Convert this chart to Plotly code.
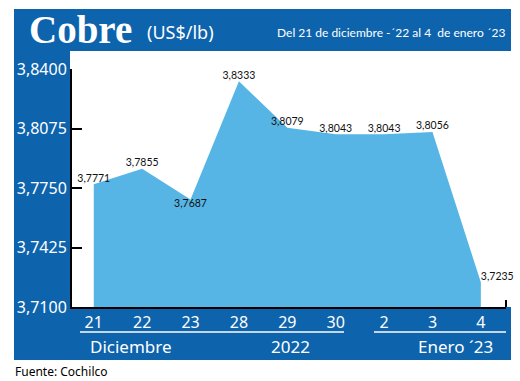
import plotly.graph_objects as go

days = ["21", "22", "23", "28", "29", "30", "2", "3", "4"]
values = [3.7771, 3.7855, 3.7687, 3.8333, 3.8079, 3.8043, 3.8043, 3.8056, 3.7235]
value_labels = [f"{v:.4f}".replace(".", ",") for v in values]
y_ticks = [3.7100, 3.7425, 3.7750, 3.8075, 3.8400]
y_tick_labels = [f"{v:.4f}".replace(".", ",") for v in y_ticks]
label_pos = ["top center", "top center", "bottom center", "top center", "top center",
             "top center", "top center", "top center", "top right"]

BLUE = "#0e63ad"
FILL = "#56b5e5"
W, H = 520, 381
L, R, T, B = 72, 14, 69, 74
PW, PH = W - L - R, H - T - B

def px(x):
    return (x - L) / PW

def py(y):
    return (H - B - y) / PH

xs = list(range(len(days)))

fig = go.Figure()
fig.add_trace(go.Scatter(
    x=xs, y=values, mode="lines", fill="tozeroy",
    line=dict(color=FILL, width=0), fillcolor=FILL, hoverinfo="skip",
))
fig.add_trace(go.Scatter(
    x=xs, y=values, mode="text", text=value_labels, textposition=label_pos,
    textfont=dict(family="Lato, Roboto", size=10.5, color="#111"),
    hoverinfo="skip", cliponaxis=False,
))

shapes = [
    dict(type="rect", xref="paper", yref="paper", x0=px(14), x1=px(511), y0=py(9), y1=py(360),
         fillcolor=BLUE, line=dict(width=0), layer="below"),
    dict(type="rect", xref="paper", yref="paper", x0=px(70), x1=px(520), y0=py(51), y1=py(307),
         fillcolor="white", line=dict(width=0), layer="below"),
    dict(type="line", xref="paper", yref="paper", x0=px(80), x1=px(344), y0=py(332), y1=py(332),
         line=dict(color="white", width=1.5)),
    dict(type="line", xref="paper", yref="paper", x0=px(374), x1=px(506), y0=py(332), y1=py(332),
         line=dict(color="white", width=1.5)),
    dict(type="line", xref="paper", yref="paper", x0=1, x1=1, y0=0, y1=py(300),
         line=dict(color="black", width=2)),
]

ann = [
    dict(text="<b>Cobre</b>", x=px(27), y=py(30), xanchor="left", yanchor="middle",
         font=dict(family="Liberation Serif, DejaVu Serif", size=39, color="white")),
    dict(text="(US$/lb)", x=px(145), y=py(32), xanchor="left", yanchor="middle",
         font=dict(family="Noto Sans, Open Sans", size=18, color="white")),
    dict(text="Del 21 de diciembre -´22 al 4  de enero ´23", x=px(508), y=py(32),
         xanchor="right", yanchor="middle",
         font=dict(family="Lato, Roboto", size=12, color="white")),
    dict(text="Diciembre", x=px(131), y=py(346), xanchor="center", yanchor="middle",
         font=dict(family="Noto Sans, Open Sans", size=17, color="white")),
    dict(text="2022", x=px(290), y=py(346), xanchor="center", yanchor="middle",
         font=dict(family="Noto Sans, Open Sans", size=17, color="white")),
    dict(text="Enero ´23", x=px(455), y=py(346), xanchor="center", yanchor="middle",
         font=dict(family="Noto Sans, Open Sans", size=17, color="white")),
    dict(text="Fuente: Cochilco", x=px(13), y=py(371), xanchor="left", yanchor="middle",
         font=dict(family="Noto Sans, Open Sans", size=12, color="black")),
]
for a in ann:
    a.update(xref="paper", yref="paper", showarrow=False)

fig.update_layout(
    width=W, height=H,
    margin=dict(l=L, r=R, t=T, b=B, pad=0),
    paper_bgcolor="white", plot_bgcolor="white",
    showlegend=False, shapes=shapes, annotations=ann,
    xaxis=dict(range=[-0.45, 8.52], tickvals=xs, ticktext=days, showgrid=False, zeroline=False,
               showline=True, linecolor="black", linewidth=2, ticks="",
               tickfont=dict(family="Noto Sans, Open Sans", size=16, color="white"), fixedrange=True),
    yaxis=dict(range=[3.71, 3.84], tickvals=y_ticks, ticktext=y_tick_labels, showgrid=False,
               zeroline=False, showline=True, linecolor="black", linewidth=2,
               ticks="inside", ticklen=10, tickwidth=2, tickcolor="black",
               tickfont=dict(family="Noto Sans, Open Sans", size=16, color="white"), fixedrange=True),
)

fig.write_html(
    "out.html",
    config={"displayModeBar": False},
    post_script="document.body.style.margin='0';document.body.style.overflow='hidden';",
)
